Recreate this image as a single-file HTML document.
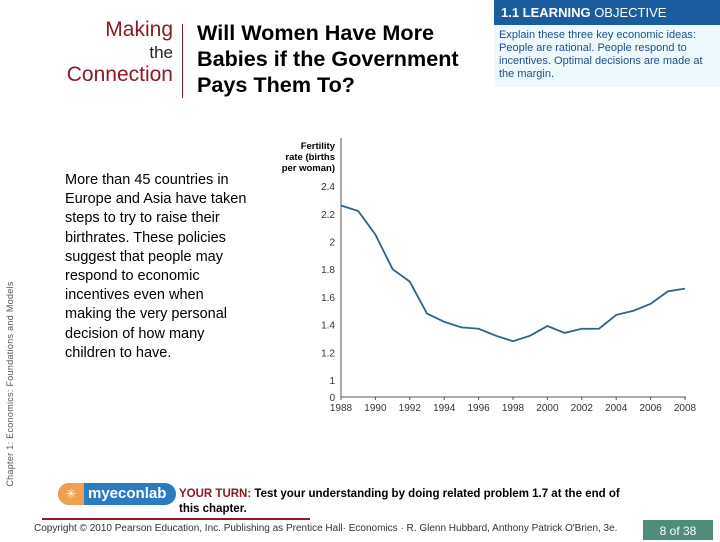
<!DOCTYPE html>
<html><head><meta charset="utf-8"><style>
body{margin:0;width:720px;height:540px;background:#fff;position:relative;overflow:hidden;font-family:"Liberation Sans",sans-serif}
.a{position:absolute}
</style></head><body>
<div class="a" style="left:40px;top:18px;width:133px;text-align:right;color:#8b1a24;font-size:21px;line-height:24px">Making<div style="color:#222;font-size:17px;line-height:21px">the</div>Connection</div>
<div class="a" style="left:182px;top:24px;width:1px;height:74px;background:#8b1a24"></div>
<div class="a" style="left:197px;top:20px;font-weight:bold;font-size:21.6px;line-height:26px;color:#000">Will Women Have More<br>Babies if the Government<br>Pays Them To?</div>
<div class="a" style="left:494px;top:0;width:226px;height:25px;background:#1b5c9f;color:#fff;font-size:13px;line-height:25px;padding-left:7px;box-sizing:border-box"><b>1.1 LEARNING</b> OBJECTIVE</div>
<div class="a" style="left:494px;top:25px;width:226px;height:62px;background:#eef9fd;color:#1b4f8a;font-size:11px;line-height:13px;padding:4px 0 0 5px;box-sizing:border-box">Explain these three key economic ideas: People are rational. People respond to incentives. Optimal decisions are made at the margin.</div>
<div class="a" style="left:-110px;top:379px;width:240px;transform:rotate(-90deg);font-size:9px;color:#555;letter-spacing:.3px;text-align:center">Chapter 1: Economics: Foundations and Models</div>
<div class="a" style="left:65px;top:171px;width:220px;font-size:14.5px;line-height:19.2px;color:#000">More than 45 countries in<br>Europe and Asia have taken<br>steps to try to raise their<br>birthrates. These policies<br>suggest that people may<br>respond to economic<br>incentives even when<br>making the very personal<br>decision of how many<br>children to have.</div>
<svg class="a" style="left:0;top:0" width="720" height="540">
<g id="axes" font-family="Liberation Sans, sans-serif" font-size="10" fill="#333"></g>
<text x="335" y="149" text-anchor="end" font-size="9.5" font-weight="bold"><tspan x="335">Fertility</tspan><tspan x="335" dy="11">rate (births</tspan><tspan x="335" dy="11">per woman)</tspan></text>
</svg>
<div class="a" style="left:58px;top:483px;width:118px;height:22px;border-radius:11px;background:#2a7bc0;overflow:hidden"><div style="position:absolute;left:0;top:0;width:26px;height:22px;background:#f0a050;color:#fff;font-size:13px;text-align:center;line-height:22px">✳</div><div style="position:absolute;left:30px;top:2px;color:#fff;font-weight:bold;font-size:15px">myeconlab</div></div>
<div class="a" style="left:179px;top:487px;font-size:11.5px;line-height:15px;font-weight:bold;color:#000;width:520px"><span style="color:#8b1a24">YOUR TURN:</span> Test your understanding by doing related problem 1.7 at the end of<br>this chapter.</div>
<div class="a" style="left:42px;top:518px;width:268px;height:2px;background:#8b1a24"></div>
<div class="a" style="left:34px;top:523px;font-size:10px;color:#333">Copyright © 2010 Pearson Education, Inc. Publishing as Prentice Hall· Economics · R. Glenn Hubbard, Anthony Patrick O'Brien, 3e.</div>
<div class="a" style="left:643px;top:520px;width:70px;height:20px;background:#4f8c7c;color:#fff;font-size:12px;text-align:center;line-height:22px">8 of 38</div>
<script>
const years=[1988,1989,1990,1991,1992,1993,1994,1995,1996,1997,1998,1999,2000,2001,2002,2003,2004,2005,2006,2007,2008];
const rates=[2.26,2.22,2.05,1.80,1.71,1.48,1.42,1.38,1.37,1.32,1.28,1.32,1.39,1.34,1.37,1.37,1.47,1.50,1.55,1.64,1.66];
const yTicks=[1,1.2,1.4,1.6,1.8,2,2.2,2.4];
const xTicks=[1988,1990,1992,1994,1996,1998,2000,2002,2004,2006,2008];
const NS='http://www.w3.org/2000/svg';
const X=y=>341+(y-1988)*(685-341)/20;
const Y=v=>380-(v-1)*138.5;
const g=document.getElementById('axes');
function mk(t,a){const e=document.createElementNS(NS,t);for(const k in a)e.setAttribute(k,a[k]);g.appendChild(e);return e;}
let ax=mk('path',{d:'M341,138V397H686',stroke:'#555',fill:'none','stroke-width':1});


yTicks.forEach(v=>{const t=mk('text',{x:335,y:Y(v)+4,'text-anchor':'end'});t.textContent=v;

});
let z=mk('text',{x:335,y:401,'text-anchor':'end'});z.textContent='0';


xTicks.forEach(v=>{mk('line',{x1:X(v),x2:X(v),y1:397,y2:400,stroke:'#555'});const t=mk('text',{x:X(v),y:411,'text-anchor':'middle'});t.textContent=v;

});
let p=mk('polyline',{points:years.map((y,i)=>X(y)+','+Y(rates[i])).join(' '),fill:'none',stroke:'#2c6489','stroke-width':1.8});


</script>
</body></html>
